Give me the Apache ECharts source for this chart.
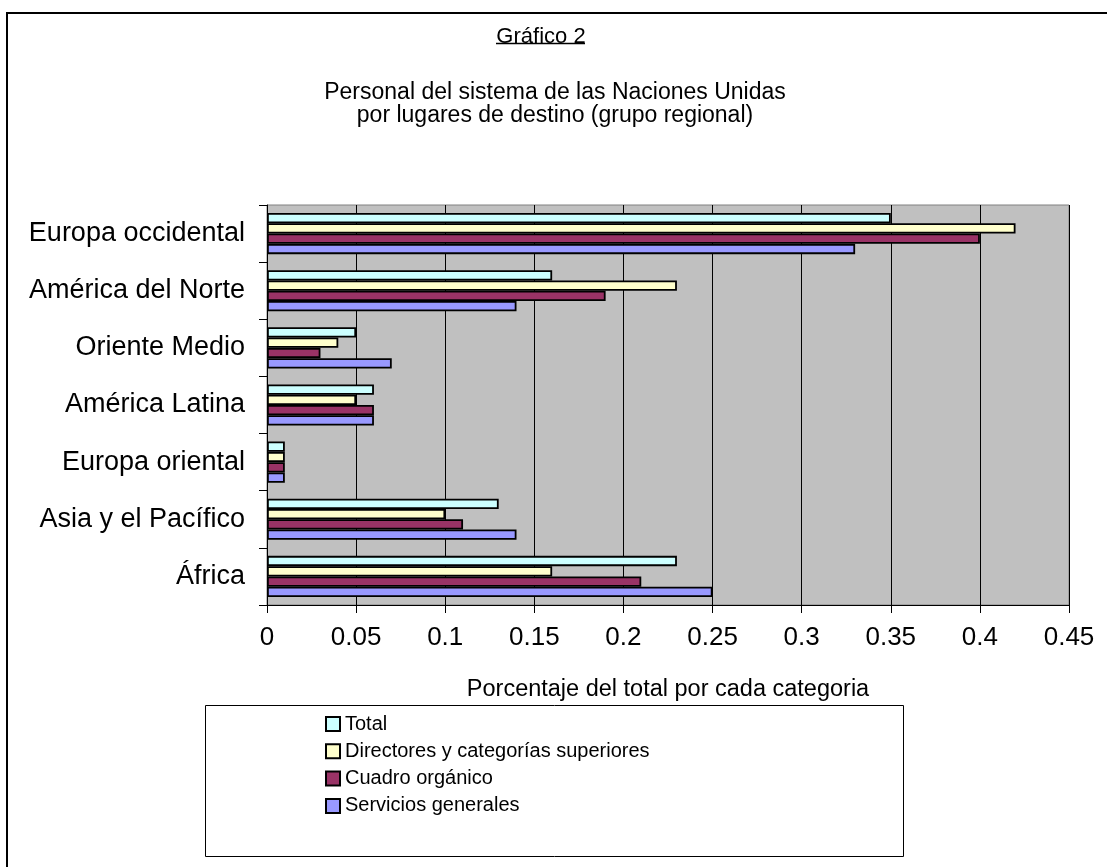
<!DOCTYPE html>
<html>
<head>
<meta charset="utf-8">
<script src="https://cdn.jsdelivr.net/npm/echarts@6/dist/echarts.min.js"></script>
<style>
html,body{margin:0;padding:0;background:#fff;}
#chart{width:1107px;height:867px;}
</style>
</head>
<body>
<div id="chart"></div>
<script>
// Categories bottom -> top (ECharts category y axis starts at the bottom)
const categories = ['África', 'Asia y el Pacífico', 'Europa oriental', 'América Latina', 'Oriente Medio', 'América del Norte', 'Europa occidental'];
const seriesNames = ['Total', 'Directores y categorías superiores', 'Cuadro orgánico', 'Servicios generales'];
const totalValues      = [0.23, 0.13, 0.01, 0.06, 0.05, 0.16, 0.35];
const directoresValues = [0.16, 0.10, 0.01, 0.05, 0.04, 0.23, 0.42];
const cuadroValues     = [0.21, 0.11, 0.01, 0.06, 0.03, 0.19, 0.40];
const serviciosValues  = [0.25, 0.14, 0.01, 0.06, 0.07, 0.14, 0.33];
const xTicks = { min: 0, max: 0.45, interval: 0.05 };

const colors = ['#CCFFFF', '#FFFFCC', '#993366', '#9999FF'];
const FONT = '"Liberation Sans", Arial, sans-serif';
const seriesData = [totalValues, directoresValues, cuadroValues, serviciosValues];

const chart = echarts.init(document.getElementById('chart'), null, { renderer: 'canvas' });

const series = seriesNames.map((name, i) => ({
  name: name,
  type: 'bar',
  data: seriesData[i],
  barGap: '0%',
  barCategoryGap: '28%',
  itemStyle: { color: colors[i], borderColor: '#000', borderWidth: 1.8 },
  emphasis: { disabled: true },
  animation: false
}));

chart.setOption({
  animation: false,
  textStyle: { fontFamily: FONT },
  title: [
    { text: 'Gráfico 2', left: 536, textAlign: 'center', top: 21,
      textStyle: { fontSize: 22, fontWeight: 'normal', color: '#000', fontFamily: FONT } },
    { text: 'Personal del sistema de las Naciones Unidas\npor lugares de destino (grupo regional)',
      left: 550, textAlign: 'center', top: 76,
      textStyle: { fontSize: 23, lineHeight: 23, fontWeight: 'normal', color: '#000', fontFamily: FONT } }
  ],
  graphic: [
    { type: 'rect', shape: { x: 7, y: 13, width: 1300, height: 1000 },
      style: { fill: 'none', stroke: '#000', lineWidth: 2 }, silent: true },
    { type: 'line', shape: { x1: 496, y1: 43.5, x2: 585, y2: 43.5 },
      style: { stroke: '#000', lineWidth: 1.5 }, silent: true },
    { type: 'rect', shape: { x: 205.5, y: 705.5, width: 698, height: 151 },
      style: { fill: 'none', stroke: '#000', lineWidth: 1 }, silent: true }
  ],
  legend: {
    data: seriesNames,
    orient: 'vertical',
    left: 320,
    top: 709,
    itemWidth: 14,
    itemHeight: 14,
    itemGap: 7.3,
    icon: 'rect',
    selectedMode: false,
    textStyle: { fontSize: 20, lineHeight: 20, color: '#000', fontFamily: FONT }
  },
  grid: {
    left: 267, right: 38, top: 205, bottom: 262,
    show: true, backgroundColor: '#C0C0C0', borderColor: '#808080', borderWidth: 1,
    containLabel: false
  },
  xAxis: {
    type: 'value',
    min: xTicks.min, max: xTicks.max, interval: xTicks.interval,
    name: 'Porcentaje del total por cada categoria',
    nameLocation: 'middle',
    nameGap: 73,
    nameTextStyle: { fontSize: 23.5, color: '#000', fontFamily: FONT },
    axisLine: { show: true, lineStyle: { color: '#000', width: 1 } },
    axisTick: { show: true, length: 8, lineStyle: { color: '#000' } },
    axisLabel: { fontSize: 26, color: '#000', margin: 20, fontFamily: FONT,
      formatter: v => String(+v.toFixed(2)) },
    splitLine: { show: true, lineStyle: { color: '#000', width: 1 } }
  },
  yAxis: {
    type: 'category',
    data: categories,
    axisLine: { show: true, lineStyle: { color: '#000', width: 1 } },
    axisTick: { show: true, length: 8, lineStyle: { color: '#000' } },
    axisLabel: { fontSize: 27, color: '#000', margin: 22, fontFamily: FONT },
    splitLine: { show: false }
  },
  series: series
});
</script>
</body>
</html>
